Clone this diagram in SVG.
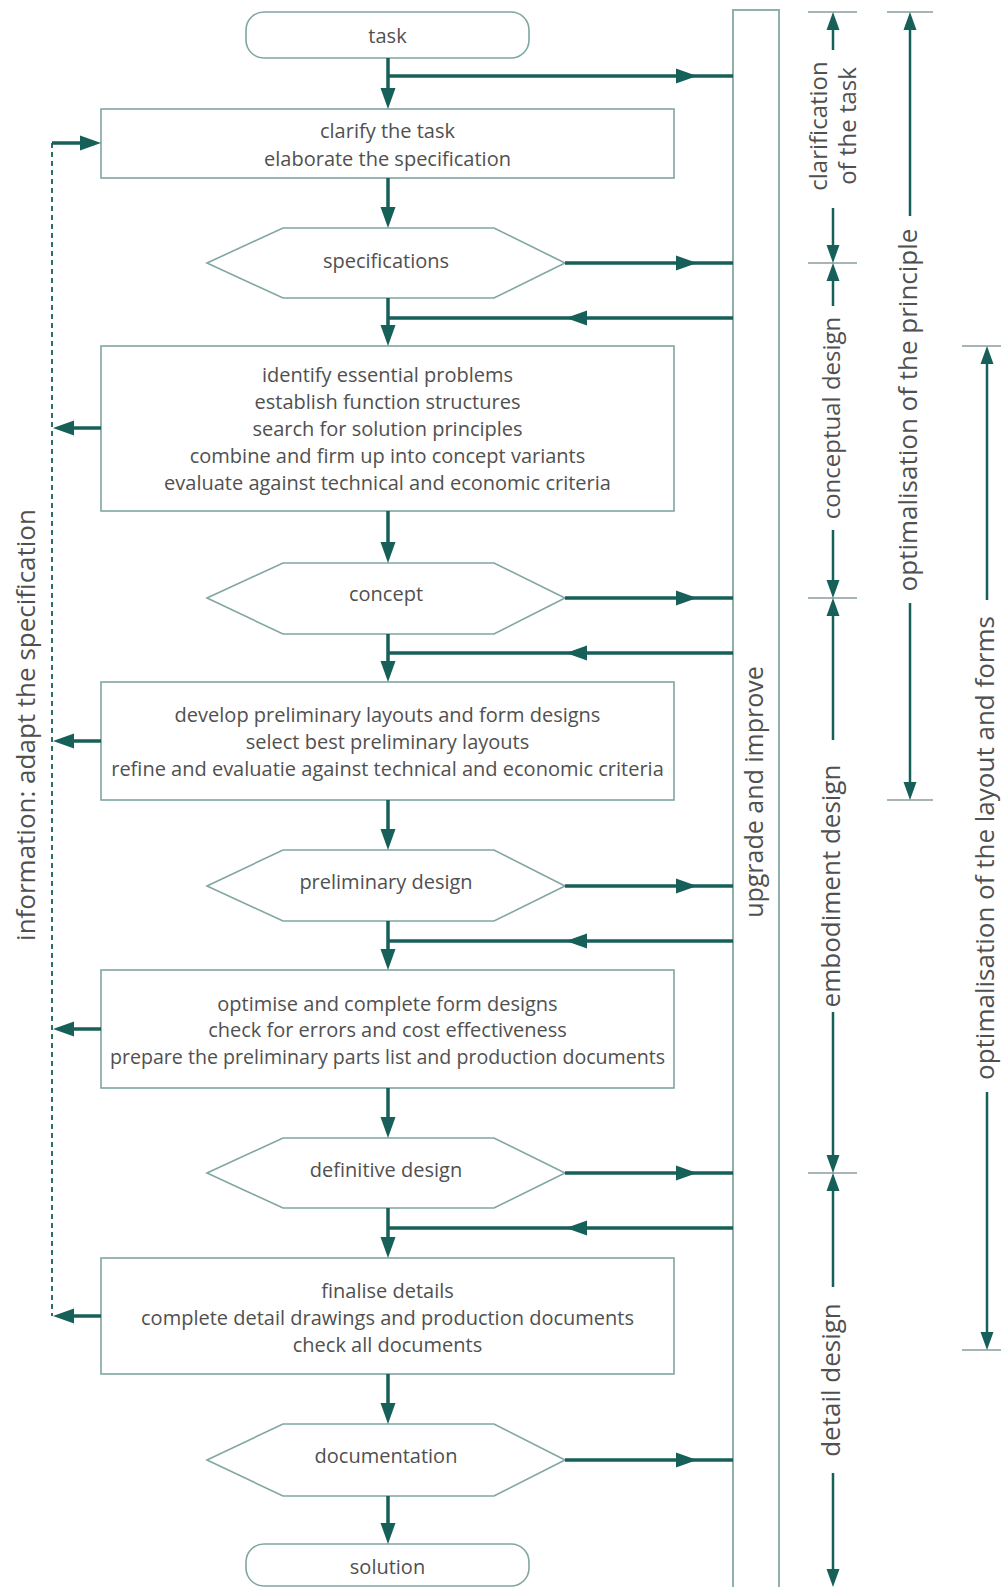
<svg xmlns="http://www.w3.org/2000/svg" xmlns:xlink="http://www.w3.org/1999/xlink" width="1001" height="1587" viewBox="0 0 1001 1587">
<style>
.box{fill:#ffffff;stroke:#7fa6a2;stroke-width:1.6}
.col{fill:#ffffff;stroke:#8fb0ac;stroke-width:2}
.t{font-family:"Open Sans","DejaVu Sans",sans-serif;font-size:20px;fill:#505050;text-anchor:middle;dominant-baseline:central}
.lbl{font-family:"Open Sans","DejaVu Sans",sans-serif;font-size:26px;fill:#505050;text-anchor:middle}
.flow{stroke:#17605a;stroke-width:3.5;fill:none}
.dim{stroke:#17605a;stroke-width:2.5;fill:none}
.tick{stroke:#8a9e9c;stroke-width:1.6;fill:none}
.dot{stroke:#17605a;stroke-width:1.8;fill:none;stroke-dasharray:5 4}
.ah{fill:#17605a}
</style>
<defs>
<path id="ah" d="M0,0 L-21,-7.5 L-21,7.5 Z"/>
<path id="dh" d="M0,0 L-18,-6.5 L-18,6.5 Z"/>
</defs>
<rect width="1001" height="1587" fill="#ffffff"/>

<g id="upgrade-column">
<rect class="col" x="733" y="10" width="46" height="1590"/>
<text class="lbl" style="font-size:25px" transform="translate(763,792) rotate(-90)">upgrade and improve</text>
</g>

<g id="task"><rect class="box" x="246" y="12" width="283" height="46" rx="18"/><text class="t" x="387.5" y="35">task</text></g>
<g id="clarify"><rect class="box" x="101" y="109" width="573" height="69"/><text class="t" x="387.5" y="130">clarify the task</text><text class="t" x="387.5" y="158">elaborate the specification</text></g>
<g id="specifications"><polygon class="box" points="207,263 283,228 494,228 565,263 494,298 283,298"/><text class="t" x="386" y="260">specifications</text></g>
<g id="identify"><rect class="box" x="101" y="346" width="573" height="165"/>
<text class="t" x="387.5" y="374">identify essential problems</text>
<text class="t" x="387.5" y="401">establish function structures</text>
<text class="t" x="387.5" y="428">search for solution principles</text>
<text class="t" x="387.5" y="455">combine and firm up into concept variants</text>
<text class="t" x="387.5" y="482">evaluate against technical and economic criteria</text></g>
<g id="concept"><polygon class="box" points="207,598 283,563 494,563 565,598 494,634 283,634"/><text class="t" x="386" y="593">concept</text></g>
<g id="develop"><rect class="box" x="101" y="682" width="573" height="118"/>
<text class="t" x="387.5" y="714">develop preliminary layouts and form designs</text>
<text class="t" x="387.5" y="741">select best preliminary layouts</text>
<text class="t" x="387.5" y="768">refine and evaluatie against technical and economic criteria</text></g>
<g id="preliminary-design"><polygon class="box" points="207,886 283,850 494,850 565,886 494,921 283,921"/><text class="t" x="386" y="881">preliminary design</text></g>
<g id="optimise"><rect class="box" x="101" y="970" width="573" height="118"/>
<text class="t" x="387.5" y="1003">optimise and complete form designs</text>
<text class="t" x="387.5" y="1029">check for errors and cost effectiveness</text>
<text class="t" style="font-size:19.6px" x="387.5" y="1056">prepare the preliminary parts list and production documents</text></g>
<g id="definitive-design"><polygon class="box" points="207,1173 283,1138 494,1138 565,1173 494,1208 283,1208"/><text class="t" x="386" y="1169">definitive design</text></g>
<g id="finalise"><rect class="box" x="101" y="1258" width="573" height="116"/>
<text class="t" x="387.5" y="1290">finalise details</text>
<text class="t" x="387.5" y="1317">complete detail drawings and production documents</text>
<text class="t" x="387.5" y="1344">check all documents</text></g>
<g id="documentation"><polygon class="box" points="207,1460 283,1424 494,1424 565,1460 494,1496 283,1496"/><text class="t" x="386" y="1455">documentation</text></g>
<g id="solution"><rect class="box" x="246" y="1544" width="283" height="42" rx="18"/><text class="t" x="387.5" y="1566">solution</text></g>

<g id="connectors">
<path class="flow" d="M388,58V99 M388,178V218 M388,298V336 M388,511V553 M388,634V672 M388,800V840 M388,921V960 M388,1088V1128 M388,1208V1248 M388,1374V1414 M388,1496V1534"/>
<g class="ah">
<use xlink:href="#ah" transform="translate(388,109) rotate(90)"/>
<use xlink:href="#ah" transform="translate(388,228) rotate(90)"/>
<use xlink:href="#ah" transform="translate(388,346) rotate(90)"/>
<use xlink:href="#ah" transform="translate(388,563) rotate(90)"/>
<use xlink:href="#ah" transform="translate(388,682) rotate(90)"/>
<use xlink:href="#ah" transform="translate(388,850) rotate(90)"/>
<use xlink:href="#ah" transform="translate(388,970) rotate(90)"/>
<use xlink:href="#ah" transform="translate(388,1138) rotate(90)"/>
<use xlink:href="#ah" transform="translate(388,1258) rotate(90)"/>
<use xlink:href="#ah" transform="translate(388,1424) rotate(90)"/>
<use xlink:href="#ah" transform="translate(388,1544) rotate(90)"/>
</g>
<path class="flow" d="M388,76H733 M565,263H733 M733,318H388 M565,598H733 M733,653H388 M565,886H733 M733,941H388 M565,1173H733 M733,1228H388 M565,1460H733"/>
<g class="ah">
<use xlink:href="#ah" transform="translate(697,76)"/>
<use xlink:href="#ah" transform="translate(697,263)"/>
<use xlink:href="#ah" transform="translate(566,318) rotate(180)"/>
<use xlink:href="#ah" transform="translate(697,598)"/>
<use xlink:href="#ah" transform="translate(566,653) rotate(180)"/>
<use xlink:href="#ah" transform="translate(697,886)"/>
<use xlink:href="#ah" transform="translate(566,941) rotate(180)"/>
<use xlink:href="#ah" transform="translate(697,1173)"/>
<use xlink:href="#ah" transform="translate(566,1228) rotate(180)"/>
<use xlink:href="#ah" transform="translate(697,1460)"/>
</g>
<path class="dot" d="M52,143V1316"/>
<path class="flow" d="M52,143H90 M101,428H62 M101,741H62 M101,1029H62 M101,1316H62"/>
<g class="ah">
<use xlink:href="#ah" transform="translate(101,143)"/>
<use xlink:href="#ah" transform="translate(53,428) rotate(180)"/>
<use xlink:href="#ah" transform="translate(53,741) rotate(180)"/>
<use xlink:href="#ah" transform="translate(53,1029) rotate(180)"/>
<use xlink:href="#ah" transform="translate(53,1316) rotate(180)"/>
</g>
</g>

<text class="lbl" transform="translate(35,725) rotate(-90)">information: adapt the specification</text>

<g id="phase-dimensions">
<path class="tick" d="M808,12H857 M808,263H857 M808,598H857 M808,1173H857 M887,12H933 M887,800H933 M962,346H1001 M962,1350H1001"/>
<path class="dim" d="M833,20V50 M833,208V255 M833,271V306 M833,530V590 M833,606V740 M833,1012V1165 M833,1181V1287 M833,1473V1579 M910,20V216 M910,603V792 M987,354V600 M987,1092V1342"/>
<g class="ah">
<use xlink:href="#dh" transform="translate(833,12) rotate(-90)"/>
<use xlink:href="#dh" transform="translate(833,263) rotate(90)"/>
<use xlink:href="#dh" transform="translate(833,263) rotate(-90)"/>
<use xlink:href="#dh" transform="translate(833,598) rotate(90)"/>
<use xlink:href="#dh" transform="translate(833,598) rotate(-90)"/>
<use xlink:href="#dh" transform="translate(833,1173) rotate(90)"/>
<use xlink:href="#dh" transform="translate(833,1173) rotate(-90)"/>
<use xlink:href="#dh" transform="translate(833,1587) rotate(90)"/>
<use xlink:href="#dh" transform="translate(910,12) rotate(-90)"/>
<use xlink:href="#dh" transform="translate(910,800) rotate(90)"/>
<use xlink:href="#dh" transform="translate(987,346) rotate(-90)"/>
<use xlink:href="#dh" transform="translate(987,1350) rotate(90)"/>
</g>
<text class="lbl" style="font-size:24px" transform="translate(827,126) rotate(-90)">clarification</text>
<text class="lbl" style="font-size:24px" transform="translate(856,126) rotate(-90)">of the task</text>
<text class="lbl" style="font-size:24px" transform="translate(840,418) rotate(-90)">conceptual design</text>
<text class="lbl" transform="translate(840,886) rotate(-90)">embodiment design</text>
<text class="lbl" transform="translate(840,1380) rotate(-90)">detail design</text>
<text class="lbl" transform="translate(917,410) rotate(-90)">optimalisation of the principle</text>
<text class="lbl" transform="translate(994,848) rotate(-90)">optimalisation of the layout and forms</text>
</g>
</svg>
